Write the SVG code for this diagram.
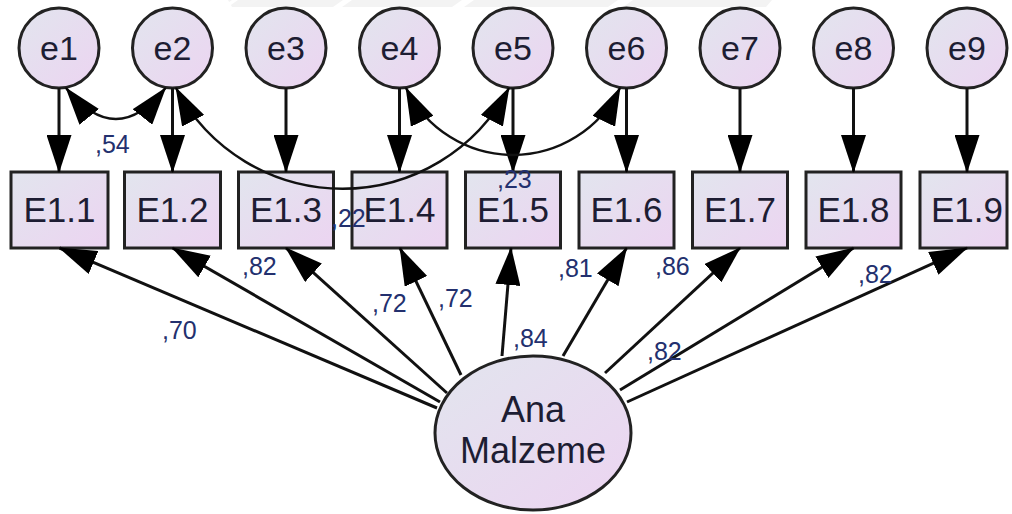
<svg xmlns="http://www.w3.org/2000/svg" width="1012" height="514" viewBox="0 0 1012 514">
  <defs>
    <linearGradient id="fillGrad" x1="0" y1="0" x2="1" y2="1">
      <stop offset="0" stop-color="#e2e5ee"/>
      <stop offset="1" stop-color="#ecd4f1"/>
    </linearGradient>
    <marker id="head" markerUnits="userSpaceOnUse" viewBox="0 0 38 25" markerWidth="38" markerHeight="25" refX="37" refY="12.5" orient="auto-start-reverse">
      <path d="M0,0 L38,12.5 L0,25 Z" fill="#000"/>
    </marker>
    <style>
      .obs { fill: url(#fillGrad); stroke: #222; stroke-width: 3; }
      .lat { fill: url(#fillGrad); stroke: #222; stroke-width: 3; }
      .lbl { font-family: "Liberation Sans", Arial, sans-serif; font-size: 35px; fill: #1d1d33; text-anchor: middle; }
      .elbl { font-family: "Liberation Sans", Arial, sans-serif; font-size: 34px; fill: #1d1d33; text-anchor: middle; }
      .num { font-family: "Liberation Sans", Arial, sans-serif; font-size: 25px; fill: #23306e; }
      .path { fill: none; stroke: #111; stroke-width: 3; marker-end: url(#head); }
      .cov { fill: none; stroke: #111; stroke-width: 2.5; marker-start: url(#head); marker-end: url(#head); }
    </style>
  </defs>

  <rect width="1012" height="514" fill="#fff"/>
  <!-- faint band along the top edge -->
  <polygon points="228,0 772,0 766,7 232,7" fill="#f3f3f3"/>
  <polygon points="222,7 232,0 238,0 228,7" fill="#fff"/>
  <polygon points="333,7 343,0 352,0 342,7" fill="#fff"/>
  <polygon points="452,7 462,0 474,0 464,7" fill="#fff"/>
  <polygon points="608,7 618,0 633,0 623,7" fill="#fff"/>

  <!-- error terms -->
  <g id="e1"><circle class="lat" cx="59" cy="48" r="40"/><text class="elbl" x="59" y="60">e1</text></g>
  <g id="e2"><circle class="lat" cx="172.5" cy="48" r="40"/><text class="elbl" x="172.5" y="60">e2</text></g>
  <g id="e3"><circle class="lat" cx="286" cy="48" r="40"/><text class="elbl" x="286" y="60">e3</text></g>
  <g id="e4"><circle class="lat" cx="399.5" cy="48" r="40"/><text class="elbl" x="399.5" y="60">e4</text></g>
  <g id="e5"><circle class="lat" cx="513" cy="48" r="40"/><text class="elbl" x="513" y="60">e5</text></g>
  <g id="e6"><circle class="lat" cx="626.5" cy="48" r="40"/><text class="elbl" x="626.5" y="60">e6</text></g>
  <g id="e7"><circle class="lat" cx="740" cy="48" r="40"/><text class="elbl" x="740" y="60">e7</text></g>
  <g id="e8"><circle class="lat" cx="853.5" cy="48" r="40"/><text class="elbl" x="853.5" y="60">e8</text></g>
  <g id="e9"><circle class="lat" cx="967" cy="48" r="40"/><text class="elbl" x="967" y="60">e9</text></g>

  <!-- observed indicators -->
  <g id="E1.1"><rect class="obs" x="11" y="172" width="97" height="76"/><text class="lbl" x="59.5" y="222">E1.1</text></g>
  <g id="E1.2"><rect class="obs" x="124.5" y="172" width="96" height="76"/><text class="lbl" x="172.5" y="222">E1.2</text></g>
  <g id="E1.3"><rect class="obs" x="238.5" y="172" width="95" height="76"/><text class="lbl" x="286" y="222">E1.3</text></g>
  <g id="E1.4"><rect class="obs" x="352" y="172" width="95" height="76"/><text class="lbl" x="399.5" y="222">E1.4</text></g>
  <g id="E1.5"><rect class="obs" x="465.5" y="172" width="95" height="76"/><text class="lbl" x="513" y="222">E1.5</text></g>
  <g id="E1.6"><rect class="obs" x="579" y="172" width="95" height="76"/><text class="lbl" x="626.5" y="222">E1.6</text></g>
  <g id="E1.7"><rect class="obs" x="692.5" y="172" width="95" height="76"/><text class="lbl" x="740" y="222">E1.7</text></g>
  <g id="E1.8"><rect class="obs" x="806" y="172" width="95" height="76"/><text class="lbl" x="853.5" y="222">E1.8</text></g>
  <g id="E1.9"><rect class="obs" x="920" y="172" width="87" height="76"/><text class="lbl" x="967" y="222">E1.9</text></g>

  <!-- latent factor -->
  <g id="AnaMalzeme">
    <ellipse class="lat" cx="533" cy="433" rx="98" ry="77"/>
    <text class="lbl" x="533" y="422" style="font-size:36px">Ana</text>
    <text class="lbl" x="533" y="463" style="font-size:36px">Malzeme</text>
  </g>

  <!-- connectors -->
  <g id="connectors">
    <!-- error paths -->
    <line class="path" x1="59" y1="88" x2="59" y2="172"/>
    <line class="path" x1="172.5" y1="88" x2="172.5" y2="172"/>
    <line class="path" x1="286" y1="88" x2="286" y2="172"/>
    <line class="path" x1="399.5" y1="88" x2="399.5" y2="172"/>
    <line class="path" x1="513" y1="88" x2="513" y2="172"/>
    <line class="path" x1="626.5" y1="88" x2="626.5" y2="172"/>
    <line class="path" x1="740" y1="88" x2="740" y2="172"/>
    <line class="path" x1="853.5" y1="88" x2="853.5" y2="172"/>
    <line class="path" x1="967" y1="88" x2="967" y2="172"/>

    <!-- factor loadings -->
    <line class="path" x1="437" y1="408" x2="59.5" y2="248"/>
    <line class="path" x1="440" y1="402" x2="172.5" y2="248"/>
    <line class="path" x1="447" y1="393" x2="286" y2="248"/>
    <line class="path" x1="461" y1="375" x2="400" y2="248"/>
    <line class="path" x1="502" y1="356" x2="511" y2="248"/>
    <line class="path" x1="563" y1="356" x2="626.5" y2="248"/>
    <line class="path" x1="605" y1="373" x2="740" y2="248"/>
    <line class="path" x1="620" y1="390" x2="853.5" y2="248"/>
    <line class="path" x1="627" y1="402" x2="967" y2="248"/>

    <!-- error covariances -->
    <path class="cov" d="M66,88 Q116,150 165.5,88"/>
    <path class="cov" d="M176,88 A188,188 0 0 0 509,88"/>
    <path class="cov" d="M406,88 A119,119 0 0 0 620,88"/>
  </g>

  <!-- estimates -->
  <g id="estimates">
    <text class="num" x="95" y="153">,54</text>
    <text class="num" x="331" y="227">,22</text>
    <text class="num" x="497" y="188">,23</text>
    <text class="num" x="162" y="339">,70</text>
    <text class="num" x="242" y="275">,82</text>
    <text class="num" x="372" y="312">,72</text>
    <text class="num" x="438" y="307">,72</text>
    <text class="num" x="513" y="347">,84</text>
    <text class="num" x="558" y="277">,81</text>
    <text class="num" x="655" y="275">,86</text>
    <text class="num" x="647" y="360">,82</text>
    <text class="num" x="858" y="283">,82</text>
  </g>
</svg>
